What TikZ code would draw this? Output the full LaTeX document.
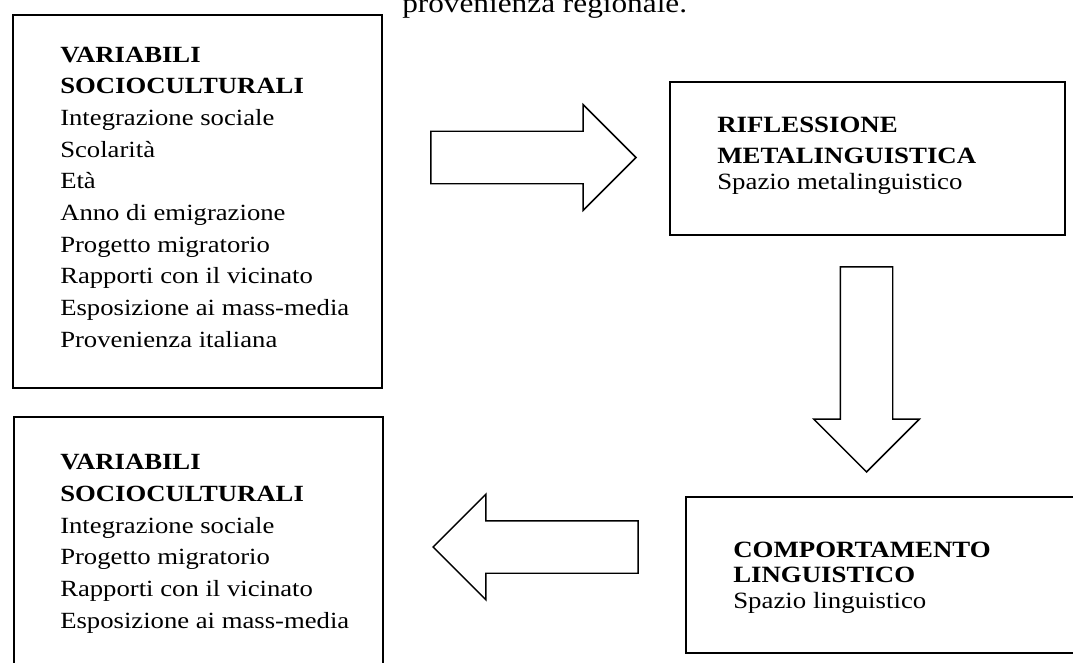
\documentclass[tikz,border=0pt]{standalone}
\usepackage{fontspec}
\setmainfont[FakeStretch=1.15]{Liberation Serif}
\usetikzlibrary{shapes.arrows}
\newcommand{\bigboxfont}{\fontsize{17.4}{23.75}\selectfont\lineskiplimit=-20pt\relax}
\newcommand{\smallboxfont}{\fontsize{17.5}{19.1}\selectfont\lineskiplimit=-20pt\relax}

\begin{document}
\begin{tikzpicture}[x=0.75pt,y=-0.75pt,line join=miter,
  frame/.style={draw,line width=1.6pt,inner sep=0pt,anchor=north west},
  textblock/.style={anchor=base west,align=left,inner sep=0pt},
  bigtext/.style={font=\bigboxfont},
  smalltext/.style={font=\smallboxfont},
  blockarrow/.style={single arrow,draw,line width=1.1pt,inner sep=19.125pt,anchor=tip,
    minimum height=153.75pt,single arrow head extend=19.9pt,single arrow tip angle=90}]
\useasboundingbox (0,0) rectangle (1073,663);
%%
\node (topline) at (402,13) [anchor=base west,inner sep=0pt,font=\fontsize{20.4}{24}\selectfont] {provenienza regionale.};
%
\node (socioBox) at (12,14) [frame,minimum width=276.75pt,minimum height=279.75pt] {};
  \node (socioText) at (60,347) [textblock,bigtext] {\textbf{VARIABILI}\\\textbf{SOCIOCULTURALI}\\Integrazione sociale\\Scolarità\\Età\\Anno di emigrazione\\Progetto migratorio\\Rapporti con il vicinato\\Esposizione ai mass-media\\Provenienza italiana};
\node (riflBox) at (669,81) [frame,minimum width=296.25pt,minimum height=114.75pt] {};
  \node (riflText) at (717,189) [textblock,smalltext] {\textbf{RIFLESSIONE}\\[4.5pt]\textbf{METALINGUISTICA}\\Spazio metalinguistico};
\node (compBox) at (685,496) [frame,minimum width=304pt,minimum height=117pt] {};
  \node (compText) at (733,608) [textblock,smalltext] {\textbf{COMPORTAMENTO}\\\textbf{LINGUISTICO}\\Spazio linguistico};
\node (socioBoxB) at (13,416) [frame,minimum width=276.75pt,minimum height=200pt] {};
  \node (socioTextB) at (60,628) [textblock,bigtext] {\textbf{VARIABILI}\\\textbf{SOCIOCULTURALI}\\Integrazione sociale\\Progetto migratorio\\Rapporti con il vicinato\\Esposizione ai mass-media};
%
\node (arrSocioRifl) at (637,157.5) [blockarrow] {};
\node (arrRiflComp) at (866.5,473) [blockarrow,shape border rotate=270] {};
\node (arrCompSocio) at (432,547) [blockarrow,shape border rotate=180] {};
%
\end{tikzpicture}
\end{document}
